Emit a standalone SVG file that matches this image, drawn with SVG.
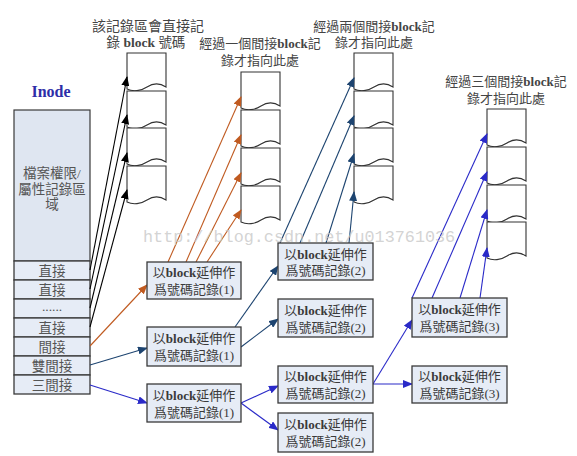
<svg xmlns="http://www.w3.org/2000/svg" xmlns:xlink="http://www.w3.org/1999/xlink" width="577" height="456" viewBox="0 0 577 456">
<style>
text{font-family:"Liberation Serif","Noto Sans CJK TC",serif;fill:#444}
.lbl{font-size:13.5px;text-anchor:middle}
.bx{font-size:13px;text-anchor:middle;fill:#3a3a3a}
.b{font-weight:bold}
.row{font-size:13.5px;text-anchor:middle;fill:#555}
.rec{fill:#e6ecf6;stroke:#3a3a3a;stroke-width:1.3}
.ino{fill:#dfe6f1;stroke:#3a3a3a;stroke-width:1.2}
.blk{fill:#fff;stroke:#333;stroke-width:1.1}
.c{fill:none;stroke-width:1.1}
.k{stroke:#000}
.o{stroke:#c05a20}
.n{stroke:#1d4470}
.u{stroke:#2a2ac8}
</style>
<defs>
<path id="blk" d="M0,0 H39 V34 C33,30 26,30 20,34 C14,38 6,39 0,36 Z"/>
<marker id="ak" markerWidth="10" markerHeight="8" refX="9" refY="4" orient="auto" markerUnits="userSpaceOnUse"><path d="M0,0 L10,4 L0,8 Z" fill="#000"/></marker>
<marker id="ao" markerWidth="10" markerHeight="8" refX="9" refY="4" orient="auto" markerUnits="userSpaceOnUse"><path d="M0,0 L10,4 L0,8 Z" fill="#c05a20"/></marker>
<marker id="an" markerWidth="10" markerHeight="8" refX="9" refY="4" orient="auto" markerUnits="userSpaceOnUse"><path d="M0,0 L10,4 L0,8 Z" fill="#1d4470"/></marker>
<marker id="au" markerWidth="10" markerHeight="8" refX="9" refY="4" orient="auto" markerUnits="userSpaceOnUse"><path d="M0,0 L10,4 L0,8 Z" fill="#2a2ac8"/></marker>
</defs>
<rect width="577" height="456" fill="#fff"/>

<g id="inode">
<text x="51" y="97" style="font-size:16px;font-weight:bold;fill:#2d2da8;text-anchor:middle">Inode</text>
<rect class="ino" x="14" y="110" width="76" height="151"/>
<text class="row" x="52" y="178">檔案權限/</text>
<text class="row" x="52" y="194">屬性記錄區</text>
<text class="row" x="52" y="209">域</text>
<rect class="rec" x="14" y="261" width="76" height="19"/>
<text class="row" x="52" y="276">直接</text>
<rect class="rec" x="14" y="280" width="76" height="19"/>
<text class="row" x="52" y="295">直接</text>
<rect class="rec" x="14" y="299" width="76" height="19"/>
<text class="row" x="52" y="311">......</text>
<rect class="rec" x="14" y="318" width="76" height="19"/>
<text class="row" x="52" y="333">直接</text>
<rect class="rec" x="14" y="337" width="76" height="19"/>
<text class="row" x="52" y="352">間接</text>
<rect class="rec" x="14" y="356" width="76" height="19"/>
<text class="row" x="52" y="371">雙間接</text>
<rect class="rec" x="14" y="375" width="76" height="19"/>
<text class="row" x="52" y="390">三間接</text>
</g>

<g id="direct-blocks">
<text class="lbl" x="148" y="31" style="font-size:14px">該記錄區會直接記</text>
<text class="lbl" x="146" y="47">錄 <tspan class="b">block</tspan> 號碼</text>
<use xlink:href="#blk" class="blk" x="127" y="53"/>
<use xlink:href="#blk" class="blk" x="127" y="91"/>
<use xlink:href="#blk" class="blk" x="127" y="128"/>
<use xlink:href="#blk" class="blk" x="127" y="166"/>
</g>

<g id="single-blocks">
<text class="lbl" x="260" y="48" style="font-size:13px">經過一個間接<tspan class="b">block</tspan>記</text>
<text class="lbl" x="260" y="65" style="font-size:13px">錄才指向此處</text>
<use xlink:href="#blk" class="blk" x="241" y="72"/>
<use xlink:href="#blk" class="blk" x="241" y="110"/>
<use xlink:href="#blk" class="blk" x="241" y="148"/>
<use xlink:href="#blk" class="blk" x="241" y="186"/>
</g>

<g id="double-blocks">
<text class="lbl" x="374" y="31" style="font-size:13px">經過兩個間接<tspan class="b">block</tspan>記</text>
<text class="lbl" x="374" y="47" style="font-size:13px">錄才指向此處</text>
<use xlink:href="#blk" class="blk" x="354" y="53"/>
<use xlink:href="#blk" class="blk" x="354" y="91"/>
<use xlink:href="#blk" class="blk" x="354" y="128"/>
<use xlink:href="#blk" class="blk" x="354" y="166"/>
</g>

<g id="triple-blocks">
<text class="lbl" x="506" y="86" style="font-size:13px">經過三個間接<tspan class="b">block</tspan>記</text>
<text class="lbl" x="506" y="103" style="font-size:13px">錄才指向此處</text>
<use xlink:href="#blk" class="blk" x="487" y="109"/>
<use xlink:href="#blk" class="blk" x="487" y="147"/>
<use xlink:href="#blk" class="blk" x="487" y="185"/>
<use xlink:href="#blk" class="blk" x="487" y="222"/>
</g>

<g id="connectors">
<g class="c k" marker-end="url(#ak)">
<line x1="90" y1="270" x2="127" y2="77"/>
<line x1="90" y1="289" x2="127" y2="115"/>
<line x1="90" y1="308" x2="127" y2="153"/>
<line x1="90" y1="327" x2="127" y2="190"/>
</g>
<g class="c o" marker-end="url(#ao)">
<line x1="90" y1="346" x2="147" y2="285"/>
<line x1="168" y1="262" x2="241" y2="97"/>
<line x1="186" y1="262" x2="241" y2="135"/>
<line x1="196" y1="262" x2="241" y2="173"/>
<line x1="207" y1="262" x2="241" y2="210"/>
</g>
<g class="c n" marker-end="url(#an)">
<line x1="90" y1="365" x2="147" y2="348"/>
<line x1="235" y1="327" x2="278" y2="266"/>
<line x1="241" y1="347" x2="278" y2="319"/>
<line x1="280" y1="243" x2="354" y2="78"/>
<line x1="300" y1="243" x2="354" y2="116"/>
<line x1="326" y1="243" x2="354" y2="154"/>
<line x1="349" y1="243" x2="354" y2="192"/>
</g>
<g class="c u" marker-end="url(#au)">
<line x1="90" y1="385" x2="147" y2="403"/>
<line x1="241" y1="403" x2="278" y2="386"/>
<line x1="241" y1="403" x2="278" y2="430"/>
<line x1="373" y1="384" x2="412" y2="320"/>
<line x1="373" y1="384" x2="412" y2="384"/>
<line x1="412" y1="298" x2="487" y2="134"/>
<line x1="432" y1="298" x2="487" y2="172"/>
<line x1="460" y1="298" x2="487" y2="210"/>
<line x1="480" y1="298" x2="487" y2="248"/>
</g>
</g>

<g id="single-1">
<rect class="rec" x="147" y="262" width="94" height="37"/>
<text class="bx" x="194" y="277">以<tspan class="b">block</tspan>延伸作</text>
<text class="bx" x="194" y="294">爲號碼記錄(1)</text>
</g>
<g id="double-1">
<rect class="rec" x="147" y="327" width="94" height="39"/>
<text class="bx" x="194" y="343">以<tspan class="b">block</tspan>延伸作</text>
<text class="bx" x="194" y="360">爲號碼記錄(1)</text>
</g>
<g id="triple-1">
<rect class="rec" x="147" y="384" width="94" height="38"/>
<text class="bx" x="194" y="400">以<tspan class="b">block</tspan>延伸作</text>
<text class="bx" x="194" y="417">爲號碼記錄(1)</text>
</g>
<g id="double-2a">
<rect class="rec" x="278" y="243" width="95" height="37"/>
<text class="bx" x="325.5" y="259">以<tspan class="b">block</tspan>延伸作</text>
<text class="bx" x="325.5" y="275">爲號碼記錄(2)</text>
</g>
<g id="double-2b">
<rect class="rec" x="278" y="299" width="95" height="38"/>
<text class="bx" x="325.5" y="315">以<tspan class="b">block</tspan>延伸作</text>
<text class="bx" x="325.5" y="332">爲號碼記錄(2)</text>
</g>
<g id="triple-2a">
<rect class="rec" x="278" y="366" width="95" height="37"/>
<text class="bx" x="325.5" y="381">以<tspan class="b">block</tspan>延伸作</text>
<text class="bx" x="325.5" y="398">爲號碼記錄(2)</text>
</g>
<g id="triple-2b">
<rect class="rec" x="278" y="413" width="95" height="39"/>
<text class="bx" x="325.5" y="429">以<tspan class="b">block</tspan>延伸作</text>
<text class="bx" x="325.5" y="446">爲號碼記錄(2)</text>
</g>
<g id="triple-3a">
<rect class="rec" x="412" y="298" width="95" height="39"/>
<text class="bx" x="459.5" y="314">以<tspan class="b">block</tspan>延伸作</text>
<text class="bx" x="459.5" y="331">爲號碼記錄(3)</text>
</g>
<g id="triple-3b">
<rect class="rec" x="412" y="366" width="95" height="37"/>
<text class="bx" x="459.5" y="381">以<tspan class="b">block</tspan>延伸作</text>
<text class="bx" x="459.5" y="398">爲號碼記錄(3)</text>
</g>

<text x="143" y="242" style="font-family:'Liberation Mono',monospace;font-size:16.8px;fill:#c8c8c8;fill-opacity:0.8">http://blog.csdn.net/u013761036</text>
</svg>
